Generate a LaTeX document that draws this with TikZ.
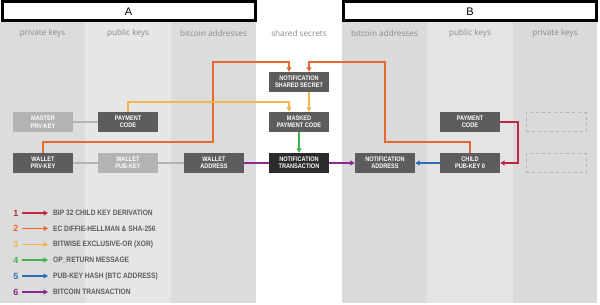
\documentclass[tikz,border=0pt]{standalone}
\usepackage{fontspec}
\setmainfont{Liberation Sans}
\newfontfamily\hdfont{Open Sans}
\newfontfamily\boxfont[FakeStretch=0.85]{Liberation Sans}
\usetikzlibrary{arrows.meta}
\definecolor{colA}{HTML}{DCDCDC}
\definecolor{colB}{HTML}{E6E6E6}
\definecolor{colC}{HTML}{DADADA}
\definecolor{colD}{HTML}{E4E4E6}
\definecolor{bxdark}{HTML}{5D5D5F}
\definecolor{bxlight}{HTML}{B3B3B3}
\definecolor{bxblack}{HTML}{2B2B2B}
\definecolor{cred}{HTML}{C0273E}
\definecolor{corange}{HTML}{E8692C}
\definecolor{cyellow}{HTML}{F0B84A}
\definecolor{cgreen}{HTML}{3BB54A}
\definecolor{cblue}{HTML}{2E6DB4}
\definecolor{cpurple}{HTML}{8A2A8F}
\definecolor{hdgray}{HTML}{8A8A8A}
\tikzset{
  keybox/.style={fill=bxdark, text=white, minimum width=60pt, minimum height=20pt, inner sep=0pt,
    align=center, font=\boxfont\bfseries\fontsize{6.6}{7.4}\selectfont},
  lightbox/.style={keybox, fill=bxlight},
  blackbox/.style={keybox, fill=bxblack},
  dashbox/.style={draw=bxlight, dashed, line width=0.8pt, minimum width=60pt, minimum height=19pt, inner sep=0pt},
  hdr/.style={text=hdgray, font=\hdfont\fontsize{8.2}{9}\selectfont},
  link/.style={line width=2pt, draw=bxlight},
  arr/.style={line width=2pt, -{Triangle[length=4.5pt,width=5pt]}},
  titlebox/.style={draw=black, line width=3pt, fill=white, inner sep=0pt, font=\fontsize{11}{12}\selectfont},
  legtxt/.style={anchor=west, text=bxdark, font=\boxfont\bfseries\fontsize{7.8}{8}\selectfont, inner sep=0pt},
  legnum/.style={font=\bfseries\fontsize{9}{10}\selectfont, inner sep=0pt}
}
\begin{document}
\begin{tikzpicture}[x=1pt,y=-1pt]
\useasboundingbox (0,0) rectangle (600,305);
\fill[white] (0,0) rectangle (600,305);
% columns
\fill[colA] (0,22) rectangle (85,303);
\fill[colB] (85,22) rectangle (171,303);
\fill[colA] (171,22) rectangle (256,303);
\fill[colC] (342,22) rectangle (427,303);
\fill[colD] (427,22) rectangle (513,303);
\fill[colC] (513,22) rectangle (597,303);
% title boxes
\node[titlebox, minimum width=253pt, minimum height=19pt] (tA) at (128.5,11.5) {A};
\node[titlebox, minimum width=253pt, minimum height=19pt] (tB) at (470,11.5) {B};
% headers
\node[hdr] (h1) at (42.5,33) {private keys};
\node[hdr] (h2) at (128,33) {public keys};
\node[hdr] (h3) at (213.5,33) {bitcoin addresses};
\node[hdr] (h4) at (299,33) {shared secrets};
\node[hdr] (h5) at (384.5,33) {bitcoin addresses};
\node[hdr] (h6) at (470,33) {public keys};
\node[hdr] (h7) at (555,33) {private keys};
% boxes
\node[lightbox] (mprv) at (43,122) {MASTER\\PRV-KEY};
\node[keybox] (pcA) at (128,122) {PAYMENT\\CODE};
\node[keybox] (wprv) at (43,163) {WALLET\\PRV-KEY};
\node[lightbox] (wpub) at (128,163) {WALLET\\PUB-KEY};
\node[keybox] (waddr) at (214,163) {WALLET\\ADDRESS};
\node[keybox] (nss) at (299,82) {NOTIFICATION\\SHARED SECRET};
\node[keybox] (mpc) at (299,122) {MASKED\\PAYMENT CODE};
\node[blackbox] (ntx) at (299,163) {NOTIFICATION\\TRANSACTION};
\node[keybox] (naddr) at (385,163) {NOTIFICATION\\ADDRESS};
\node[keybox] (child) at (470,163) {CHILD\\PUB-KEY 0};
\node[keybox] (pcB) at (470,122) {PAYMENT\\CODE};
\node[dashbox] (d1) at (556,122) {};
\node[dashbox] (d2) at (556,163) {};
% gray links
\draw[link] (mprv) -- (pcA);
\draw[link] (wprv) -- (wpub);
\draw[link] (wpub) -- (waddr);
% orange
\draw[arr, corange] (wprv.north) |- (213,142) |- (289,62) -- ([xshift=-10pt]nss.north);
\draw[arr, corange] (child.north) |- (385,142) |- (309,62) -- ([xshift=10pt]nss.north);
% yellow
\draw[arr, cyellow] (pcA.north) |- (289,102) -- ([xshift=-10pt]mpc.north);
\draw[arr, cyellow] ([xshift=10pt]nss.south) -- ([xshift=10pt]mpc.north);
% green
\draw[arr, cgreen] (mpc.south) -- (ntx.north);
% purple
\draw[line width=2pt, cpurple] (waddr.east) -- (ntx.west);
\draw[arr, cpurple] (ntx.east) -- (naddr.west);
% blue
\draw[arr, cblue] (child.west) -- (naddr.east);
% red
\draw[arr, cred] (pcB.east) -- (518,122) |- (child.east);
% legend
\foreach \n/\c/\y/\t in {1/cred/213/BIP 32 CHILD KEY DERIVATION,
  2/corange/228.5/EC DIFFIE-HELLMAN \& SHA-256,
  3/cyellow/244.5/BITWISE EXCLUSIVE-OR (XOR),
  4/cgreen/260/OP\_RETURN MESSAGE,
  5/cblue/276/PUB-KEY HASH (BTC ADDRESS),
  6/cpurple/292/BITCOIN TRANSACTION}{
  \node[legnum, text=\c] (ln\n) at (16,\y) {\n};
  \coordinate (la\n) at (22,\y);
  \coordinate (lb\n) at (48,\y);
  \draw[arr, \c, line width=1.8pt] (la\n) -- (lb\n);
  \node[legtxt] (lt\n) at (53,\y) {\t};
}
\end{tikzpicture}
\end{document}
